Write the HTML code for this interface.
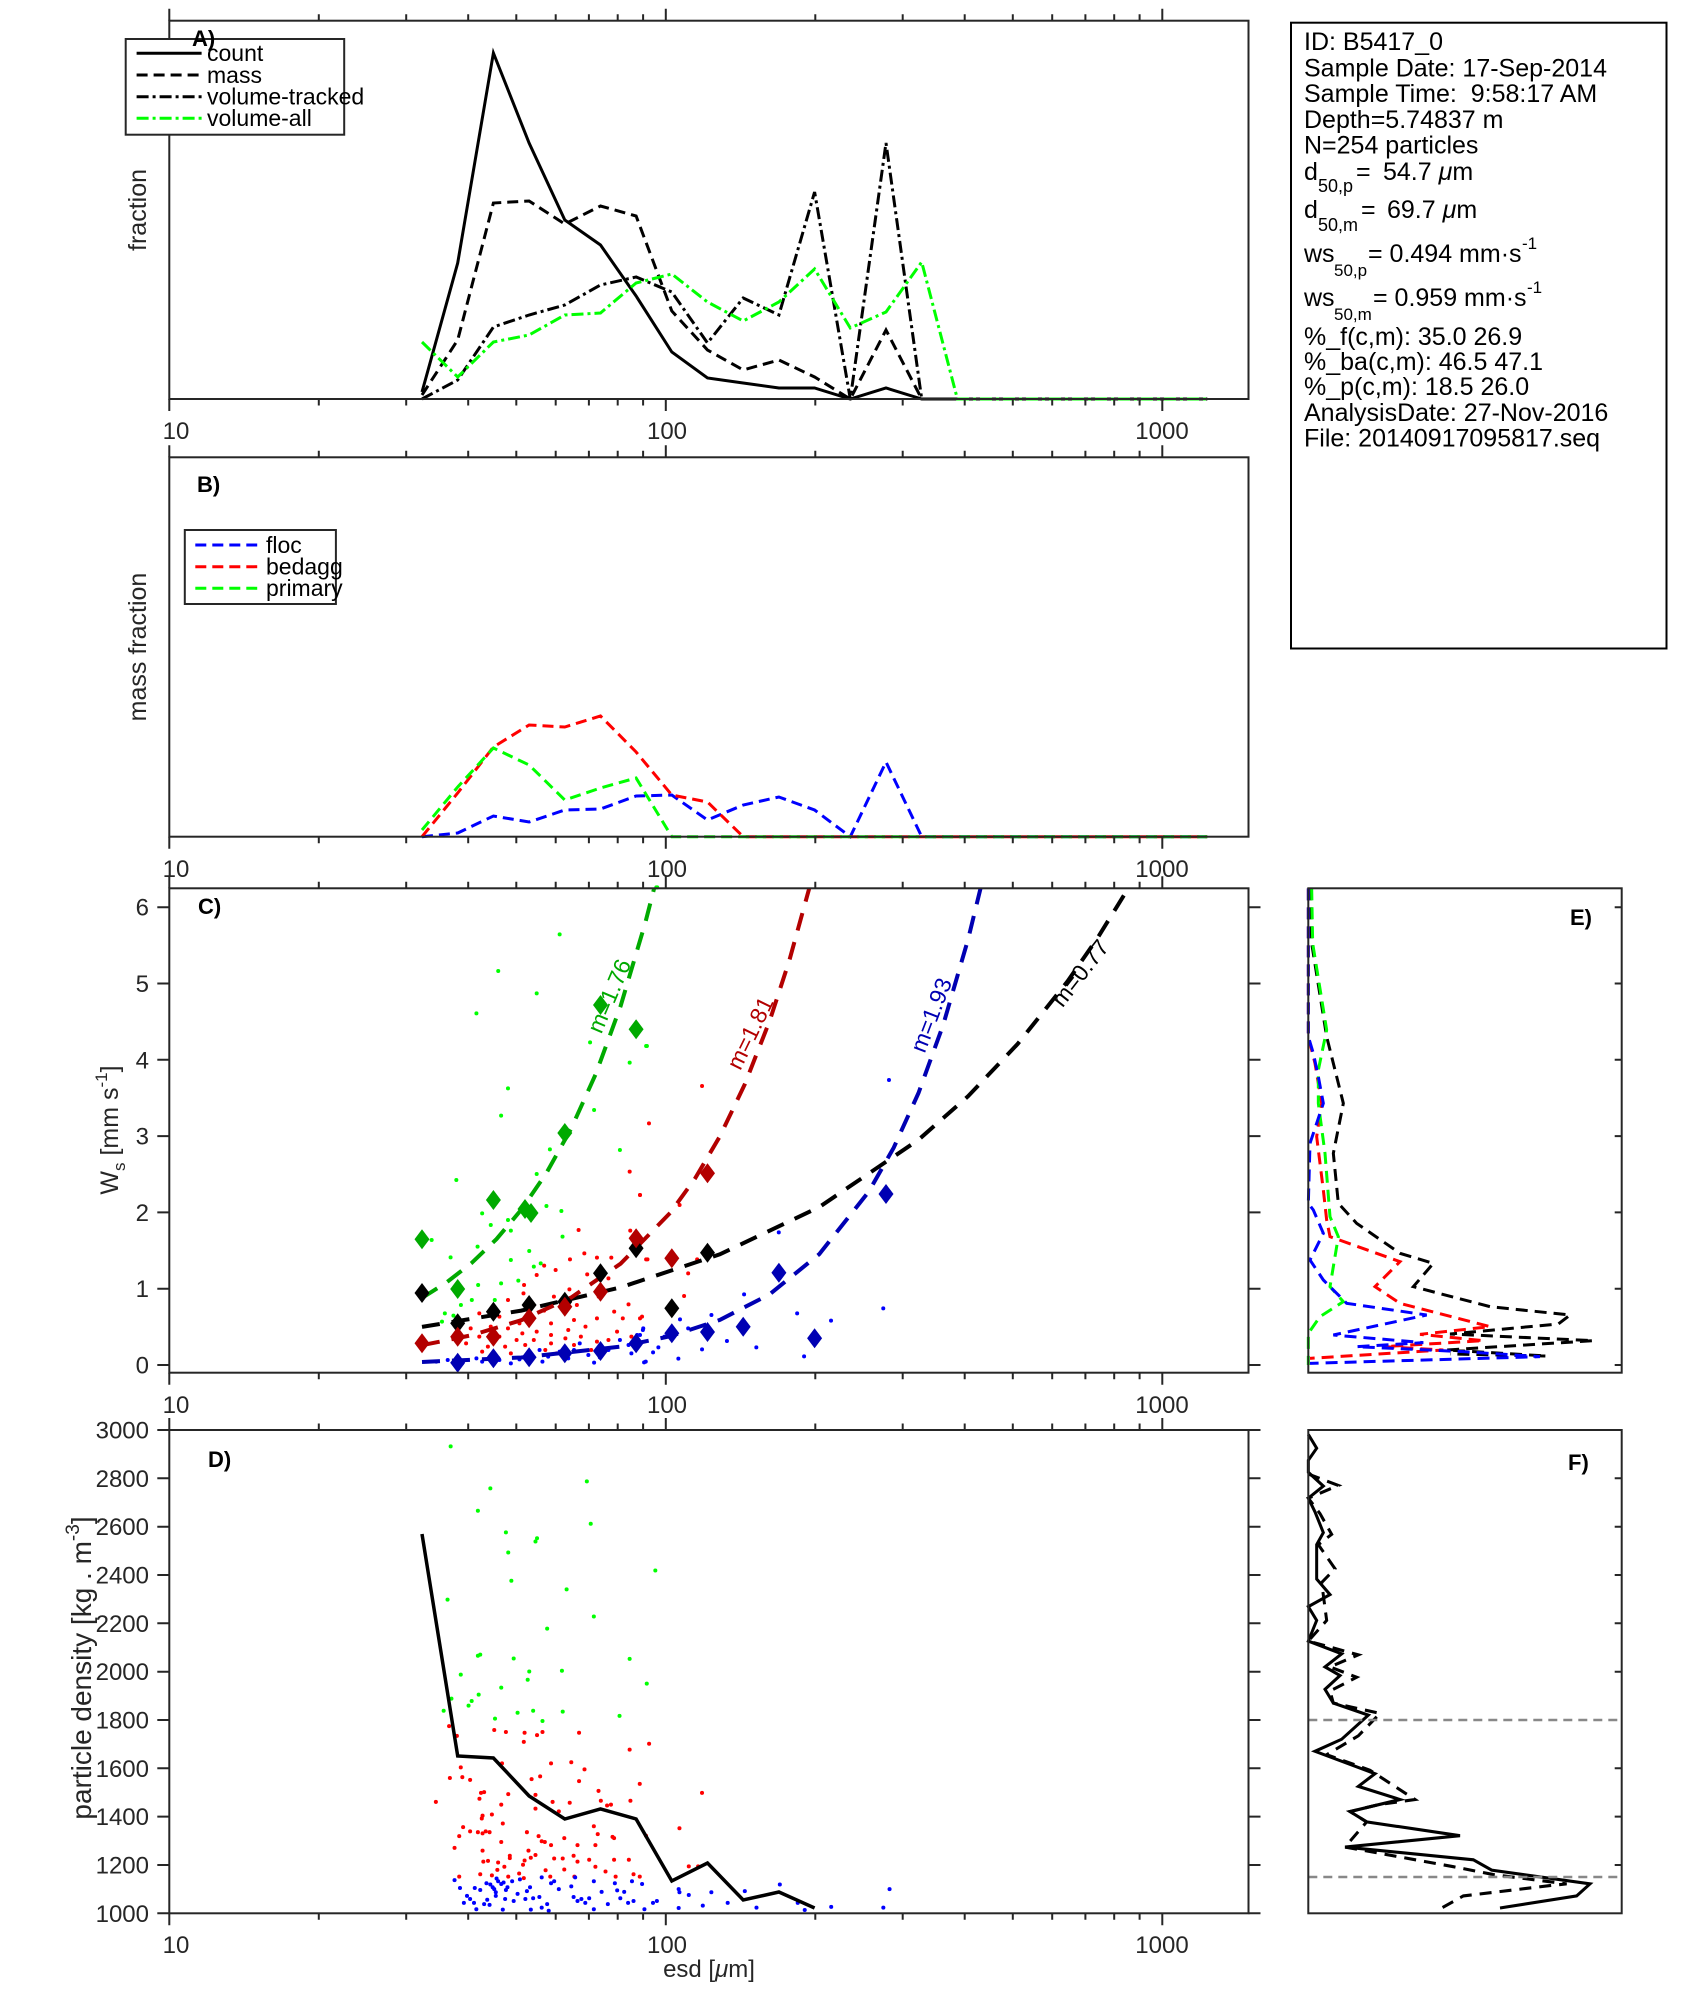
<!DOCTYPE html>
<html><head><meta charset="utf-8">
<style>
body{margin:0;background:#fff}
svg{display:block;font-family:"Liberation Sans",Arial,sans-serif}
</style></head><body>
<svg width="1694" height="2015" viewBox="0 0 1694 2015" xmlns="http://www.w3.org/2000/svg" xmlns:xlink="http://www.w3.org/1999/xlink">
<defs>
<path id="xt" d="M169.3 0v-12M318.8 0v-6.5M406.2 0v-6.5M468.2 0v-6.5M516.3 0v-6.5M555.7 0v-6.5M588.9 0v-6.5M617.7 0v-6.5M643.1 0v-6.5M665.8 0v-12M815.3 0v-6.5M902.7 0v-6.5M964.7 0v-6.5M1012.8 0v-6.5M1052.2 0v-6.5M1085.4 0v-6.5M1114.2 0v-6.5M1139.6 0v-6.5M1162.3 0v-12" stroke="#262626" stroke-width="2" fill="none"/>
<ellipse id="e4" rx="3.5" ry="6"/>
<ellipse id="e7" rx="4.9" ry="6"/>
<ellipse id="e9" rx="2.6" ry="5.1"/>
<path id="dm" d="M0-10L7.5 0 0 10-7.5 0Z"/>
</defs>
<rect width="1694" height="2015" fill="#fff"/>

<!-- ================= PANEL A ================= -->
<g fill="none" stroke-width="3" stroke-linejoin="miter">
<polyline stroke="#000" points="422,392 457.7,263 493.4,53 529.1,143 564.8,220 600.5,245 636.1,296 671.8,352 707.5,378 743.2,383 778.9,388 814.6,388 850.3,399 886,388 921.7,399 1207.2,399"/>
<polyline stroke="#000" stroke-dasharray="11 6" points="422,395 457.7,340 493.4,203 529.1,201 564.8,224 600.5,206 636.1,216 671.8,311 707.5,350 743.2,370 778.9,360 814.6,377 850.3,399 886,330 921.7,399 1207.2,399"/>
<polyline stroke="#000" stroke-dasharray="12 4 3 4" points="422,399 457.7,380 493.4,327 529.1,315 564.8,305 600.5,285 636.1,277 671.8,292 707.5,343 743.2,298 778.9,315 814.6,192 850.3,399 886,143 921.7,399 1207.2,399"/>
<polyline stroke="#00ff00" stroke-dasharray="12 4 3 4" points="422,342 457.7,377 493.4,342 529.1,335 564.8,315 600.5,313 636.1,283 671.8,274 707.5,302 743.2,321 778.9,302 814.6,269 850.3,328 886,312 921.7,262 957.4,399 1207.2,399"/>
</g>
<rect x="169.3" y="20.7" width="1079.2" height="378.3" fill="none" stroke="#262626" stroke-width="2"/>
<use xlink:href="#xt" transform="translate(0,20.7)"/>
<use xlink:href="#xt" transform="translate(0,399) scale(1,-1)"/>
<g font-size="24" fill="#262626" text-anchor="middle">
<text x="176" y="439">10</text><text x="667" y="439">100</text><text x="1162" y="439">1000</text>
</g>
<text transform="translate(146,210) rotate(-90)" text-anchor="middle" font-size="25" fill="#262626">fraction</text>
<!-- legend A -->
<rect x="125.7" y="39" width="218.5" height="95.7" fill="#fff" stroke="#262626" stroke-width="2"/>
<g fill="none" stroke-width="3">
<line x1="136.6" y1="53.3" x2="201.6" y2="53.3" stroke="#000"/>
<line x1="136.6" y1="75" x2="201.6" y2="75" stroke="#000" stroke-dasharray="11 6"/>
<line x1="136.6" y1="96.7" x2="201.6" y2="96.7" stroke="#000" stroke-dasharray="12 4 3 4"/>
<line x1="136.6" y1="118.3" x2="201.6" y2="118.3" stroke="#00ff00" stroke-dasharray="12 4 3 4"/>
</g>
<g font-size="23" fill="#000">
<text x="207" y="61">count</text>
<text x="207" y="83">mass</text>
<text x="207" y="104.5">volume-tracked</text>
<text x="207" y="126">volume-all</text>
</g>
<text x="192" y="46" font-size="22" font-weight="bold" fill="#000">A)</text>

<!-- ================= INFO BOX ================= -->
<rect x="1291" y="22.7" width="375.5" height="625.8" fill="#fff" stroke="#000" stroke-width="2"/>
<g font-size="25" fill="#000">
<text x="1304" y="50">ID: B5417_0</text>
<text x="1304" y="76.5">Sample Date: 17-Sep-2014</text>
<text x="1304" y="102" xml:space="preserve">Sample Time:  9:58:17 AM</text>
<text x="1304" y="128">Depth=5.74837 m</text>
<text x="1304" y="153.5">N=254 particles</text>
<text x="1304" y="180">d</text><text x="1318" y="192" font-size="18">50,p</text><text x="1356" y="180">=</text><text x="1383" y="180">54.7 <tspan font-style="italic">μ</tspan>m</text>
<text x="1304" y="218">d</text><text x="1318" y="231" font-size="18">50,m</text><text x="1361" y="218">=</text><text x="1387" y="218">69.7 <tspan font-style="italic">μ</tspan>m</text>
<text x="1304" y="262">ws</text><text x="1334" y="276" font-size="17">50,p</text><text x="1368" y="262" xml:space="preserve">= 0.494 mm·s</text><text x="1522" y="249" font-size="17">-1</text>
<text x="1304" y="306">ws</text><text x="1334" y="320" font-size="17">50,m</text><text x="1373" y="306" xml:space="preserve">= 0.959 mm·s</text><text x="1527" y="293" font-size="17">-1</text>
<text x="1304" y="345">%_f(c,m): 35.0 26.9</text>
<text x="1304" y="370">%_ba(c,m): 46.5 47.1</text>
<text x="1304" y="395">%_p(c,m): 18.5 26.0</text>
<text x="1304" y="421">AnalysisDate: 27-Nov-2016</text>
<text x="1304" y="446.5">File: 20140917095817.seq</text>
</g>

<!-- ================= PANEL B ================= -->
<g fill="none" stroke-width="3" stroke-dasharray="11 6">
<polyline stroke="#0000ff" points="422,836.7 457.7,833 493.4,816 529.1,822 564.8,810 600.5,809 636.1,796 671.8,795 707.5,820 743.2,805 778.9,797 814.6,810 850.3,836.7 886,762 921.7,836.7 1207.2,836.7"/>
<polyline stroke="#ff0000" points="422,836.7 457.7,793 493.4,747 529.1,725 564.8,727 600.5,716 636.1,752 671.8,795 707.5,802 743.2,836.7 1207.2,836.7"/>
<polyline stroke="#00ff00" points="422,830 457.7,787 493.4,748 529.1,765 564.8,800 600.5,788 636.1,778 671.8,836.7 1207.2,836.7"/>
</g>
<rect x="169.3" y="457.3" width="1079.2" height="379.4" fill="none" stroke="#262626" stroke-width="2"/>
<use xlink:href="#xt" transform="translate(0,457.3)"/>
<use xlink:href="#xt" transform="translate(0,836.7) scale(1,-1)"/>
<g font-size="24" fill="#262626" text-anchor="middle">
<text x="176" y="877">10</text><text x="667" y="877">100</text><text x="1162" y="877">1000</text>
</g>
<text transform="translate(146,647) rotate(-90)" text-anchor="middle" font-size="25" fill="#262626">mass fraction</text>
<text x="197" y="492" font-size="22" font-weight="bold" fill="#000">B)</text>
<rect x="184.8" y="530" width="151.1" height="74" fill="#fff" stroke="#262626" stroke-width="2"/>
<g fill="none" stroke-width="3" stroke-dasharray="11 6">
<line x1="195.3" y1="545" x2="257.2" y2="545" stroke="#0000ff"/>
<line x1="195.3" y1="566.7" x2="257.2" y2="566.7" stroke="#ff0000"/>
<line x1="195.3" y1="588.3" x2="257.2" y2="588.3" stroke="#00ff00"/>
</g>
<g font-size="23" fill="#000">
<text x="266" y="553">floc</text>
<text x="266" y="574.5">bedagg</text>
<text x="266" y="596">primary</text>
</g>

<!-- ================= PANEL C ================= -->
<g transform="translate(0,870) scale(0.5740,0.33333)">
<g fill="#00ff00">
<use xlink:href="#e4" x="975" y="193"/><use xlink:href="#e4" x="868" y="303"/><use xlink:href="#e4" x="935" y="370"/><use xlink:href="#e4" x="830" y="430"/><use xlink:href="#e4" x="1097" y="578"/><use xlink:href="#e4" x="1127" y="528"/><use xlink:href="#e4" x="1028" y="517"/><use xlink:href="#e4" x="885" y="655"/><use xlink:href="#e4" x="1035" y="720"/><use xlink:href="#e4" x="873" y="737"/><use xlink:href="#e4" x="1080" y="840"/><use xlink:href="#e4" x="958" y="838"/><use xlink:href="#e4" x="935" y="912"/><use xlink:href="#e4" x="795" y="930"/><use xlink:href="#e4" x="952" y="1008"/><use xlink:href="#e4" x="978" y="1023"/><use xlink:href="#e4" x="840" y="1030"/><use xlink:href="#e4" x="885" y="1050"/><use xlink:href="#e4" x="855" y="1065"/><use xlink:href="#e4" x="890" y="1082"/><use xlink:href="#e4" x="980" y="1100"/><use xlink:href="#e4" x="832" y="1130"/><use xlink:href="#e4" x="785" y="1162"/><use xlink:href="#e4" x="922" y="1143"/><use xlink:href="#e4" x="890" y="1170"/><use xlink:href="#e4" x="942" y="1180"/><use xlink:href="#e4" x="930" y="1190"/><use xlink:href="#e4" x="873" y="1240"/><use xlink:href="#e4" x="903" y="1232"/><use xlink:href="#e4" x="833" y="1245"/><use xlink:href="#e4" x="752" y="1110"/><use xlink:href="#e4" x="803" y="1305"/><use xlink:href="#e4" x="775" y="1330"/><use xlink:href="#e4" x="790" y="1337"/><use xlink:href="#e4" x="770" y="1355"/><use xlink:href="#e4" x="862" y="1290"/><use xlink:href="#e4" x="822" y="1290"/><use xlink:href="#e4" x="1145" y="52"/>
</g>
<g fill="#ff0000">
<use xlink:href="#e4" x="1097" y="905"/><use xlink:href="#e4" x="1115" y="975"/><use xlink:href="#e4" x="1008" y="1080"/><use xlink:href="#e4" x="1098" y="1082"/><use xlink:href="#e4" x="1018" y="1150"/><use xlink:href="#e4" x="1040" y="1163"/><use xlink:href="#e4" x="1065" y="1163"/><use xlink:href="#e4" x="993" y="1168"/><use xlink:href="#e4" x="968" y="1200"/><use xlink:href="#e4" x="935" y="1215"/><use xlink:href="#e4" x="948" y="1187"/><use xlink:href="#e4" x="1023" y="1213"/><use xlink:href="#e4" x="1060" y="1225"/><use xlink:href="#e4" x="992" y="1258"/><use xlink:href="#e4" x="913" y="1245"/><use xlink:href="#e4" x="912" y="1270"/><use xlink:href="#e4" x="1095" y="1303"/><use xlink:href="#e4" x="1070" y="1325"/><use xlink:href="#e4" x="1043" y="1280"/><use xlink:href="#e4" x="1005" y="1305"/><use xlink:href="#e4" x="885" y="1290"/><use xlink:href="#e4" x="860" y="1313"/><use xlink:href="#e4" x="835" y="1330"/><use xlink:href="#e4" x="965" y="1280"/><use xlink:href="#e4" x="948" y="1322"/><use xlink:href="#e4" x="925" y="1340"/><use xlink:href="#e4" x="870" y="1340"/><use xlink:href="#e4" x="905" y="1360"/><use xlink:href="#e4" x="960" y="1360"/><use xlink:href="#e4" x="1000" y="1350"/><use xlink:href="#e4" x="1040" y="1345"/><use xlink:href="#e4" x="1115" y="1345"/><use xlink:href="#e4" x="1085" y="1345"/><use xlink:href="#e4" x="855" y="1370"/><use xlink:href="#e4" x="885" y="1375"/><use xlink:href="#e4" x="910" y="1390"/><use xlink:href="#e4" x="935" y="1385"/><use xlink:href="#e4" x="960" y="1395"/><use xlink:href="#e4" x="990" y="1380"/><use xlink:href="#e4" x="1020" y="1370"/><use xlink:href="#e4" x="1075" y="1385"/><use xlink:href="#e4" x="820" y="1375"/><use xlink:href="#e4" x="800" y="1395"/><use xlink:href="#e4" x="835" y="1400"/><use xlink:href="#e4" x="870" y="1400"/><use xlink:href="#e4" x="900" y="1410"/><use xlink:href="#e4" x="930" y="1410"/><use xlink:href="#e4" x="960" y="1420"/><use xlink:href="#e4" x="985" y="1405"/><use xlink:href="#e4" x="1012" y="1400"/><use xlink:href="#e4" x="1060" y="1410"/><use xlink:href="#e4" x="1100" y="1400"/><use xlink:href="#e4" x="812" y="1420"/><use xlink:href="#e4" x="850" y="1430"/><use xlink:href="#e4" x="880" y="1430"/><use xlink:href="#e4" x="915" y="1425"/><use xlink:href="#e4" x="950" y="1440"/><use xlink:href="#e4" x="1000" y="1425"/><use xlink:href="#e4" x="1040" y="1415"/><use xlink:href="#e4" x="840" y="1445"/><use xlink:href="#e4" x="890" y="1450"/><use xlink:href="#e4" x="970" y="1450"/><use xlink:href="#e4" x="1030" y="1440"/><use xlink:href="#e4" x="1128" y="1168"/>
</g>
<g fill="#0000ff">
<use xlink:href="#e4" x="1080" y="1410"/><use xlink:href="#e4" x="1095" y="1425"/><use xlink:href="#e4" x="1110" y="1395"/><use xlink:href="#e4" x="1120" y="1380"/><use xlink:href="#e4" x="1100" y="1450"/><use xlink:href="#e4" x="1125" y="1475"/><use xlink:href="#e4" x="1010" y="1420"/><use xlink:href="#e4" x="1025" y="1455"/><use xlink:href="#e4" x="1035" y="1478"/><use xlink:href="#e4" x="1000" y="1440"/><use xlink:href="#e4" x="975" y="1445"/><use xlink:href="#e4" x="955" y="1460"/><use xlink:href="#e4" x="945" y="1475"/><use xlink:href="#e4" x="920" y="1455"/><use xlink:href="#e4" x="905" y="1468"/><use xlink:href="#e4" x="890" y="1480"/><use xlink:href="#e4" x="870" y="1470"/><use xlink:href="#e4" x="860" y="1483"/><use xlink:href="#e4" x="840" y="1475"/><use xlink:href="#e4" x="830" y="1465"/><use xlink:href="#e4" x="805" y="1480"/><use xlink:href="#e4" x="780" y="1470"/><use xlink:href="#e4" x="760" y="1475"/><use xlink:href="#e4" x="940" y="1440"/><use xlink:href="#e4" x="990" y="1465"/><use xlink:href="#e4" x="1060" y="1440"/><use xlink:href="#e4" x="1045" y="1462"/>
</g>
</g>
<g transform="translate(640,870) scale(0.40816,0.33333)">
<g fill="#ff0000">
<use xlink:href="#e7" x="152" y="648"/><use xlink:href="#e7" x="22" y="760"/><use xlink:href="#e7" x="0" y="975"/><use xlink:href="#e7" x="97" y="1005"/><use xlink:href="#e7" x="15" y="1168"/><use xlink:href="#e7" x="118" y="1210"/><use xlink:href="#e7" x="108" y="1278"/><use xlink:href="#e7" x="140" y="1168"/><use xlink:href="#e7" x="5" y="1340"/>
</g>
<g fill="#0000ff">
<use xlink:href="#e7" x="610" y="630"/><use xlink:href="#e7" x="340" y="1087"/><use xlink:href="#e7" x="255" y="1273"/><use xlink:href="#e7" x="385" y="1330"/><use xlink:href="#e7" x="468" y="1352"/><use xlink:href="#e7" x="596" y="1315"/><use xlink:href="#e7" x="175" y="1335"/><use xlink:href="#e7" x="98" y="1348"/><use xlink:href="#e7" x="118" y="1375"/><use xlink:href="#e7" x="8" y="1375"/><use xlink:href="#e7" x="0" y="1395"/><use xlink:href="#e7" x="152" y="1438"/><use xlink:href="#e7" x="213" y="1413"/><use xlink:href="#e7" x="285" y="1432"/><use xlink:href="#e7" x="402" y="1459"/><use xlink:href="#e7" x="94" y="1466"/><use xlink:href="#e7" x="45" y="1432"/><use xlink:href="#e7" x="32" y="1447"/><use xlink:href="#e7" x="10" y="1477"/><use xlink:href="#e7" x="60" y="1400"/>
</g>
<g fill="#00ff00"><use xlink:href="#e7" x="15" y="528"/><use xlink:href="#e7" x="40" y="52"/></g>
</g>
<g fill="none" stroke-width="4" stroke-dasharray="18 12">
<polyline stroke="#000" points="422,1326.9 521.3,1310.6 620.6,1287.4 719.9,1254.3 819.2,1207.1 918.5,1139.8 968.2,1096.1 1017.8,1043.8 1067.5,981.4 1097.2,938.5 1128.4,888.1"/>
<polyline stroke="#0000b3" points="422,1362 521.3,1357.5 620.6,1346.6 670.3,1336.2 719.9,1319.9 769.6,1294.3 819.2,1254.2 868.9,1191.4 893.7,1147.7 918.5,1093 943.3,1024.5 968.2,938.9 980.6,888.1"/>
<polyline stroke="#b30000" points="422,1345.2 471.7,1335.2 521.3,1320.2 571,1297.6 620.6,1263.7 670.3,1212.8 695.1,1178.4 719.9,1136.3 744.7,1084.5 769.6,1021 789.4,960.2 809.3,888.1"/>
<polyline stroke="#00aa00" points="422,1297.9 446.8,1282.2 471.7,1262.9 496.5,1239.1 521.3,1209.7 546.1,1173.6 571,1128.9 595.8,1073.9 620.6,1006.1 645.4,922.4 654.2,888.1"/>
</g>
<g fill="#00aa00">
<use xlink:href="#dm" x="422" y="1239.3"/><use xlink:href="#dm" x="457.7" y="1289"/><use xlink:href="#dm" x="493.4" y="1200"/><use xlink:href="#dm" x="525" y="1209"/><use xlink:href="#dm" x="531" y="1213"/><use xlink:href="#dm" x="564.8" y="1133"/><use xlink:href="#dm" x="600.5" y="1005"/><use xlink:href="#dm" x="636.1" y="1029.3"/>
</g>
<g fill="#000">
<use xlink:href="#dm" x="422" y="1293"/><use xlink:href="#dm" x="457.7" y="1323.3"/><use xlink:href="#dm" x="493.4" y="1311.7"/><use xlink:href="#dm" x="529.1" y="1305"/><use xlink:href="#dm" x="564.8" y="1301.7"/><use xlink:href="#dm" x="600.5" y="1273.3"/><use xlink:href="#dm" x="636.1" y="1248.3"/><use xlink:href="#dm" x="671.8" y="1308.3"/><use xlink:href="#dm" x="707.5" y="1252.7"/>
</g>
<g fill="#b30000">
<use xlink:href="#dm" x="422" y="1343.3"/><use xlink:href="#dm" x="457.7" y="1336.7"/><use xlink:href="#dm" x="493.4" y="1336.7"/><use xlink:href="#dm" x="529.1" y="1318.3"/><use xlink:href="#dm" x="564.8" y="1306.7"/><use xlink:href="#dm" x="600.5" y="1291.7"/><use xlink:href="#dm" x="636.1" y="1238.3"/><use xlink:href="#dm" x="671.8" y="1258.3"/><use xlink:href="#dm" x="707.5" y="1173.3"/>
</g>
<g fill="#0000b3">
<use xlink:href="#dm" x="457.7" y="1362.7"/><use xlink:href="#dm" x="493.4" y="1358.3"/><use xlink:href="#dm" x="529.1" y="1357.3"/><use xlink:href="#dm" x="564.8" y="1353.3"/><use xlink:href="#dm" x="600.5" y="1351"/><use xlink:href="#dm" x="636.1" y="1343.3"/><use xlink:href="#dm" x="671.8" y="1333.3"/><use xlink:href="#dm" x="707.5" y="1332"/><use xlink:href="#dm" x="743.2" y="1326.7"/><use xlink:href="#dm" x="778.9" y="1272.7"/><use xlink:href="#dm" x="814.6" y="1338.3"/><use xlink:href="#dm" x="886" y="1194"/>
</g>
<g font-size="23" text-anchor="middle">
<text transform="translate(609,996) rotate(-67)" dy="8" fill="#00aa00">m=1.76</text>
<text transform="translate(750,1033) rotate(-64)" dy="8" fill="#b30000">m=1.81</text>
<text transform="translate(931,1015) rotate(-69)" dy="8" fill="#0000b3">m=1.93</text>
<text transform="translate(1080,973) rotate(-52)" dy="8" fill="#000">m=0.77</text>
</g>
<rect x="169.3" y="888.3" width="1079.2" height="484.4" fill="none" stroke="#262626" stroke-width="2"/>
<use xlink:href="#xt" transform="translate(0,888.3)"/>
<use xlink:href="#xt" transform="translate(0,1372.7) scale(1,-1)"/>
<path d="M169.3 1365h-12M169.3 1288.7h-12M169.3 1212.4h-12M169.3 1136.1h-12M169.3 1059.8h-12M169.3 983.5h-12M169.3 907.2h-12M1248.5 1365h12M1248.5 1288.7h12M1248.5 1212.4h12M1248.5 1136.1h12M1248.5 1059.8h12M1248.5 983.5h12M1248.5 907.2h12" stroke="#262626" stroke-width="2"/>
<g font-size="24" fill="#262626" text-anchor="end">
<text x="149" y="1373.5">0</text><text x="149" y="1297.2">1</text><text x="149" y="1220.9">2</text><text x="149" y="1144.6">3</text><text x="149" y="1068.3">4</text><text x="149" y="992">5</text><text x="149" y="915.7">6</text>
</g>
<g font-size="24" fill="#262626" text-anchor="middle">
<text x="176" y="1413">10</text><text x="667" y="1413">100</text><text x="1162" y="1413">1000</text>
</g>
<text transform="translate(118,1130) rotate(-90)" text-anchor="middle" font-size="25" fill="#262626">W<tspan font-size="17" dy="7">s</tspan><tspan dy="-7"> [mm s</tspan><tspan font-size="17" dy="-11">-1</tspan><tspan dy="11">]</tspan></text>
<text x="198" y="914" font-size="22" font-weight="bold" fill="#000">C)</text>

<!-- ================= PANEL E ================= -->
<g transform="translate(1290,870) scale(0.33333)" fill="none" stroke-width="9" stroke-dasharray="36 21">
<polyline stroke="#000" points="62,55 65,220 110,500 160,700 130,850 145,1000 200,1060 330,1150 430,1180 370,1250 600,1310 840,1335 805,1362 480,1392 910,1412 470,1440 770,1458 480,1452"/>
<polyline stroke="#ff0000" points="55,55 55,500 75,580 95,700 80,800 100,960 110,1050 120,1100 330,1175 255,1250 330,1300 600,1370 390,1393 580,1412 280,1430 460,1440 60,1465"/>
<polyline stroke="#00ff00" points="65,55 68,220 110,480 85,600 85,700 105,850 120,1040 145,1100 120,1250 160,1295 90,1340 55,1390 55,1485"/>
<polyline stroke="#0000ff" points="55,55 55,500 70,550 85,620 100,700 60,820 55,1000 70,1020 100,1090 60,1170 100,1230 170,1300 410,1335 130,1395 400,1418 200,1430 520,1445 750,1460 60,1480"/>
</g>
<rect x="1308.3" y="888.3" width="313.4" height="484.4" fill="none" stroke="#262626" stroke-width="2"/>
<path d="M1621.7 1365h-7M1621.7 1288.7h-7M1621.7 1212.4h-7M1621.7 1136.1h-7M1621.7 1059.8h-7M1621.7 983.5h-7M1621.7 907.2h-7" stroke="#262626" stroke-width="2"/>
<text x="1570" y="925" font-size="22" font-weight="bold" fill="#000">E)</text>

<!-- ================= PANEL D ================= -->
<g transform="translate(60,1400) scale(0.7782,0.3929)">
<g fill="#00ff00">
<use xlink:href="#e9" x="502" y="118"/><use xlink:href="#e9" x="553" y="225"/><use xlink:href="#e9" x="677" y="207"/><use xlink:href="#e9" x="537" y="282"/><use xlink:href="#e9" x="682" y="315"/><use xlink:href="#e9" x="573" y="337"/><use xlink:href="#e9" x="613" y="352"/><use xlink:href="#e9" x="611" y="360"/><use xlink:href="#e9" x="576" y="388"/><use xlink:href="#e9" x="765" y="434"/><use xlink:href="#e9" x="580" y="460"/><use xlink:href="#e9" x="651" y="482"/><use xlink:href="#e9" x="498" y="508"/><use xlink:href="#e9" x="686" y="551"/><use xlink:href="#e9" x="626" y="582"/><use xlink:href="#e9" x="540" y="648"/><use xlink:href="#e9" x="537" y="651"/><use xlink:href="#e9" x="583" y="658"/><use xlink:href="#e9" x="732" y="659"/><use xlink:href="#e9" x="645" y="689"/><use xlink:href="#e9" x="603" y="691"/><use xlink:href="#e9" x="515" y="699"/><use xlink:href="#e9" x="601" y="712"/><use xlink:href="#e9" x="754" y="722"/><use xlink:href="#e9" x="567" y="732"/><use xlink:href="#e9" x="538" y="750"/><use xlink:href="#e9" x="503" y="760"/><use xlink:href="#e9" x="529" y="766"/><use xlink:href="#e9" x="525" y="778"/><use xlink:href="#e9" x="493" y="791"/><use xlink:href="#e9" x="646" y="793"/><use xlink:href="#e9" x="608" y="791"/><use xlink:href="#e9" x="588" y="796"/><use xlink:href="#e9" x="719" y="804"/><use xlink:href="#e9" x="559" y="811"/><use xlink:href="#e9" x="620" y="817"/>
</g>
<g fill="#ff0000">
<use xlink:href="#e9" x="500" y="830"/><use xlink:href="#e9" x="510" y="855"/><use xlink:href="#e9" x="558" y="840"/><use xlink:href="#e9" x="573" y="845"/><use xlink:href="#e9" x="597" y="847"/><use xlink:href="#e9" x="620" y="845"/><use xlink:href="#e9" x="613" y="853"/><use xlink:href="#e9" x="667" y="847"/><use xlink:href="#e9" x="596" y="870"/><use xlink:href="#e9" x="757" y="875"/><use xlink:href="#e9" x="732" y="890"/><use xlink:href="#e9" x="568" y="925"/><use xlink:href="#e9" x="515" y="935"/><use xlink:href="#e9" x="657" y="922"/><use xlink:href="#e9" x="631" y="925"/><use xlink:href="#e9" x="674" y="940"/><use xlink:href="#e9" x="501" y="962"/><use xlink:href="#e9" x="517" y="960"/><use xlink:href="#e9" x="527" y="967"/><use xlink:href="#e9" x="617" y="958"/><use xlink:href="#e9" x="606" y="965"/><use xlink:href="#e9" x="667" y="970"/><use xlink:href="#e9" x="745" y="977"/><use xlink:href="#e9" x="545" y="998"/><use xlink:href="#e9" x="541" y="1000"/><use xlink:href="#e9" x="576" y="1003"/><use xlink:href="#e9" x="611" y="1005"/><use xlink:href="#e9" x="692" y="995"/><use xlink:href="#e9" x="483" y="1023"/><use xlink:href="#e9" x="539" y="1015"/><use xlink:href="#e9" x="633" y="1023"/><use xlink:href="#e9" x="655" y="1025"/><use xlink:href="#e9" x="733" y="1020"/><use xlink:href="#e9" x="825" y="1000"/><use xlink:href="#e9" x="695" y="1020"/><use xlink:href="#e9" x="708" y="1030"/><use xlink:href="#e9" x="611" y="1040"/><use xlink:href="#e9" x="567" y="1030"/><use xlink:href="#e9" x="703" y="1032"/><use xlink:href="#e9" x="555" y="1055"/><use xlink:href="#e9" x="543" y="1058"/><use xlink:href="#e9" x="641" y="1047"/><use xlink:href="#e9" x="542" y="1065"/><use xlink:href="#e9" x="569" y="1078"/><use xlink:href="#e9" x="518" y="1087"/><use xlink:href="#e9" x="686" y="1085"/><use xlink:href="#e9" x="796" y="1090"/><use xlink:href="#e9" x="527" y="1098"/><use xlink:href="#e9" x="537" y="1100"/><use xlink:href="#e9" x="552" y="1100"/><use xlink:href="#e9" x="547" y="1098"/><use xlink:href="#e9" x="513" y="1110"/><use xlink:href="#e9" x="600" y="1100"/><use xlink:href="#e9" x="691" y="1105"/><use xlink:href="#e9" x="615" y="1110"/><use xlink:href="#e9" x="543" y="1103"/><use xlink:href="#e9" x="710" y="1112"/><use xlink:href="#e9" x="712" y="1115"/><use xlink:href="#e9" x="753" y="1109"/><use xlink:href="#e9" x="623" y="1125"/><use xlink:href="#e9" x="567" y="1125"/><use xlink:href="#e9" x="648" y="1115"/><use xlink:href="#e9" x="619" y="1123"/><use xlink:href="#e9" x="665" y="1133"/><use xlink:href="#e9" x="688" y="1133"/><use xlink:href="#e9" x="631" y="1133"/><use xlink:href="#e9" x="507" y="1140"/><use xlink:href="#e9" x="543" y="1147"/><use xlink:href="#e9" x="602" y="1147"/><use xlink:href="#e9" x="660" y="1160"/><use xlink:href="#e9" x="578" y="1160"/><use xlink:href="#e9" x="605" y="1165"/><use xlink:href="#e9" x="578" y="1166"/><use xlink:href="#e9" x="550" y="1173"/><use xlink:href="#e9" x="611" y="1158"/><use xlink:href="#e9" x="635" y="1167"/><use xlink:href="#e9" x="646" y="1167"/><use xlink:href="#e9" x="680" y="1170"/><use xlink:href="#e9" x="712" y="1170"/><use xlink:href="#e9" x="731" y="1170"/><use xlink:href="#e9" x="544" y="1175"/><use xlink:href="#e9" x="563" y="1177"/><use xlink:href="#e9" x="597" y="1172"/><use xlink:href="#e9" x="665" y="1175"/><use xlink:href="#e9" x="808" y="1187"/><use xlink:href="#e9" x="820" y="1187"/><use xlink:href="#e9" x="595" y="1183"/><use xlink:href="#e9" x="571" y="1188"/><use xlink:href="#e9" x="688" y="1188"/><use xlink:href="#e9" x="562" y="1196"/><use xlink:href="#e9" x="648" y="1195"/><use xlink:href="#e9" x="540" y="1207"/><use xlink:href="#e9" x="555" y="1210"/><use xlink:href="#e9" x="590" y="1205"/><use xlink:href="#e9" x="624" y="1197"/><use xlink:href="#e9" x="737" y="1207"/><use xlink:href="#e9" x="576" y="1213"/><use xlink:href="#e9" x="630" y="1213"/><use xlink:href="#e9" x="513" y="1213"/><use xlink:href="#e9" x="661" y="1213"/><use xlink:href="#e9" x="701" y="1200"/><use xlink:href="#e9" x="714" y="1213"/><use xlink:href="#e9" x="745" y="1213"/><use xlink:href="#e9" x="596" y="1217"/>
</g>
<g fill="#0000ff">
<use xlink:href="#e9" x="507" y="1222"/><use xlink:href="#e9" x="514" y="1242"/><use xlink:href="#e9" x="533" y="1242"/><use xlink:href="#e9" x="540" y="1247"/><use xlink:href="#e9" x="548" y="1230"/><use xlink:href="#e9" x="553" y="1233"/><use xlink:href="#e9" x="556" y="1240"/><use xlink:href="#e9" x="558" y="1245"/><use xlink:href="#e9" x="561" y="1218"/><use xlink:href="#e9" x="563" y="1225"/><use xlink:href="#e9" x="567" y="1232"/><use xlink:href="#e9" x="570" y="1228"/><use xlink:href="#e9" x="575" y="1240"/><use xlink:href="#e9" x="581" y="1225"/><use xlink:href="#e9" x="591" y="1220"/><use xlink:href="#e9" x="600" y="1250"/><use xlink:href="#e9" x="604" y="1240"/><use xlink:href="#e9" x="619" y="1215"/><use xlink:href="#e9" x="631" y="1230"/><use xlink:href="#e9" x="635" y="1225"/><use xlink:href="#e9" x="657" y="1238"/><use xlink:href="#e9" x="662" y="1215"/><use xlink:href="#e9" x="686" y="1225"/><use xlink:href="#e9" x="713" y="1230"/><use xlink:href="#e9" x="735" y="1225"/><use xlink:href="#e9" x="748" y="1232"/><use xlink:href="#e9" x="519" y="1280"/><use xlink:href="#e9" x="523" y="1262"/><use xlink:href="#e9" x="532" y="1280"/><use xlink:href="#e9" x="535" y="1296"/><use xlink:href="#e9" x="549" y="1272"/><use xlink:href="#e9" x="552" y="1285"/><use xlink:href="#e9" x="560" y="1262"/><use xlink:href="#e9" x="569" y="1297"/><use xlink:href="#e9" x="572" y="1270"/><use xlink:href="#e9" x="583" y="1275"/><use xlink:href="#e9" x="588" y="1257"/><use xlink:href="#e9" x="598" y="1270"/><use xlink:href="#e9" x="605" y="1297"/><use xlink:href="#e9" x="608" y="1268"/><use xlink:href="#e9" x="616" y="1265"/><use xlink:href="#e9" x="619" y="1292"/><use xlink:href="#e9" x="626" y="1283"/><use xlink:href="#e9" x="628" y="1300"/><use xlink:href="#e9" x="641" y="1245"/><use xlink:href="#e9" x="660" y="1265"/><use xlink:href="#e9" x="665" y="1275"/><use xlink:href="#e9" x="670" y="1270"/><use xlink:href="#e9" x="675" y="1280"/><use xlink:href="#e9" x="680" y="1268"/><use xlink:href="#e9" x="686" y="1296"/><use xlink:href="#e9" x="696" y="1252"/><use xlink:href="#e9" x="704" y="1283"/><use xlink:href="#e9" x="716" y="1248"/><use xlink:href="#e9" x="720" y="1268"/><use xlink:href="#e9" x="725" y="1252"/><use xlink:href="#e9" x="730" y="1280"/><use xlink:href="#e9" x="737" y="1275"/><use xlink:href="#e9" x="751" y="1296"/><use xlink:href="#e9" x="762" y="1280"/><use xlink:href="#e9" x="767" y="1275"/><use xlink:href="#e9" x="795" y="1245"/><use xlink:href="#e9" x="796" y="1253"/><use xlink:href="#e9" x="795" y="1293"/><use xlink:href="#e9" x="808" y="1260"/><use xlink:href="#e9" x="826" y="1287"/><use xlink:href="#e9" x="837" y="1253"/><use xlink:href="#e9" x="858" y="1280"/><use xlink:href="#e9" x="880" y="1250"/><use xlink:href="#e9" x="895" y="1292"/><use xlink:href="#e9" x="925" y="1233"/><use xlink:href="#e9" x="948" y="1280"/><use xlink:href="#e9" x="957" y="1298"/><use xlink:href="#e9" x="991" y="1290"/><use xlink:href="#e9" x="1058" y="1292"/><use xlink:href="#e9" x="1066" y="1245"/><use xlink:href="#e9" x="527" y="1270"/><use xlink:href="#e9" x="545" y="1283"/><use xlink:href="#e9" x="560" y="1253"/><use xlink:href="#e9" x="573" y="1247"/>
</g>
</g>
<polyline fill="none" stroke="#000" stroke-width="3.5" points="422,1534 457.7,1756 493.4,1758 529.1,1796 564.8,1819 600.5,1809 636.1,1819 671.8,1881 707.5,1863 743.2,1900 778.9,1892 814.6,1908"/>
<rect x="169.3" y="1430" width="1079.2" height="483.3" fill="none" stroke="#262626" stroke-width="2"/>
<use xlink:href="#xt" transform="translate(0,1430)"/>
<use xlink:href="#xt" transform="translate(0,1913.3) scale(1,-1)"/>
<path d="M169.3 1913.3h-12M169.3 1865h-12M169.3 1816.6h-12M169.3 1768.3h-12M169.3 1720h-12M169.3 1671.7h-12M169.3 1623.3h-12M169.3 1575h-12M169.3 1526.7h-12M169.3 1478.3h-12M169.3 1430h-12M1248.5 1913.3h12M1248.5 1865h12M1248.5 1816.6h12M1248.5 1768.3h12M1248.5 1720h12M1248.5 1671.7h12M1248.5 1623.3h12M1248.5 1575h12M1248.5 1526.7h12M1248.5 1478.3h12M1248.5 1430h12" stroke="#262626" stroke-width="2"/>
<g font-size="24" fill="#262626" text-anchor="end">
<text x="149" y="1921.8">1000</text><text x="149" y="1873.5">1200</text><text x="149" y="1825.1">1400</text><text x="149" y="1776.8">1600</text><text x="149" y="1728.5">1800</text><text x="149" y="1680.2">2000</text><text x="149" y="1631.8">2200</text><text x="149" y="1583.5">2400</text><text x="149" y="1535.2">2600</text><text x="149" y="1486.8">2800</text><text x="149" y="1438.5">3000</text>
</g>
<g font-size="24" fill="#262626" text-anchor="middle">
<text x="176" y="1953">10</text><text x="667" y="1953">100</text><text x="1162" y="1953">1000</text>
<text x="709" y="1977">esd [<tspan font-style="italic">μ</tspan>m]</text>
</g>
<text transform="translate(91,1668) rotate(-90)" text-anchor="middle" font-size="28" fill="#262626">particle density [kg . m<tspan font-size="19" dy="-12">-3</tspan><tspan dy="12">]</tspan></text>
<text x="208" y="1467" font-size="22" font-weight="bold" fill="#000">D)</text>

<!-- ================= PANEL F ================= -->
<g transform="translate(1290,1400) scale(0.33333,0.3444)" fill="none" stroke="#000" stroke-width="9">
<polyline points="55,100 80,140 55,175 55,210 100,250 55,285 75,325 100,385 80,420 80,520 120,565 55,600 80,640 55,700 155,737 105,775 150,800 105,840 130,880 235,915 155,985 75,1020 255,1085 205,1122 330,1160 180,1195 230,1225 510,1265 165,1298 550,1335 605,1365 900,1405 860,1440 630,1475"/>
<polyline stroke-dasharray="36 24" points="55,215 145,248 55,285 90,330 125,390 85,420 135,490 95,530 110,640 55,700 205,740 120,775 200,805 120,845 130,880 270,910 205,975 110,1030 240,1075 375,1160 265,1175 180,1195 230,1225 165,1298 490,1355 610,1378 830,1405 780,1410 520,1440 455,1475"/>
</g>
<g stroke="#888" stroke-width="2.5" stroke-dasharray="9 6">
<line x1="1308.3" y1="1720" x2="1621.7" y2="1720"/>
<line x1="1308.3" y1="1877" x2="1621.7" y2="1877"/>
</g>
<rect x="1308.3" y="1430" width="313.4" height="483.3" fill="none" stroke="#262626" stroke-width="2"/>
<path d="M1621.7 1865h-7M1621.7 1816.6h-7M1621.7 1768.3h-7M1621.7 1671.7h-7M1621.7 1623.3h-7M1621.7 1575h-7M1621.7 1526.7h-7M1621.7 1478.3h-7" stroke="#262626" stroke-width="2"/>
<text x="1568" y="1470" font-size="22" font-weight="bold" fill="#000">F)</text>
</svg>
</body></html>
